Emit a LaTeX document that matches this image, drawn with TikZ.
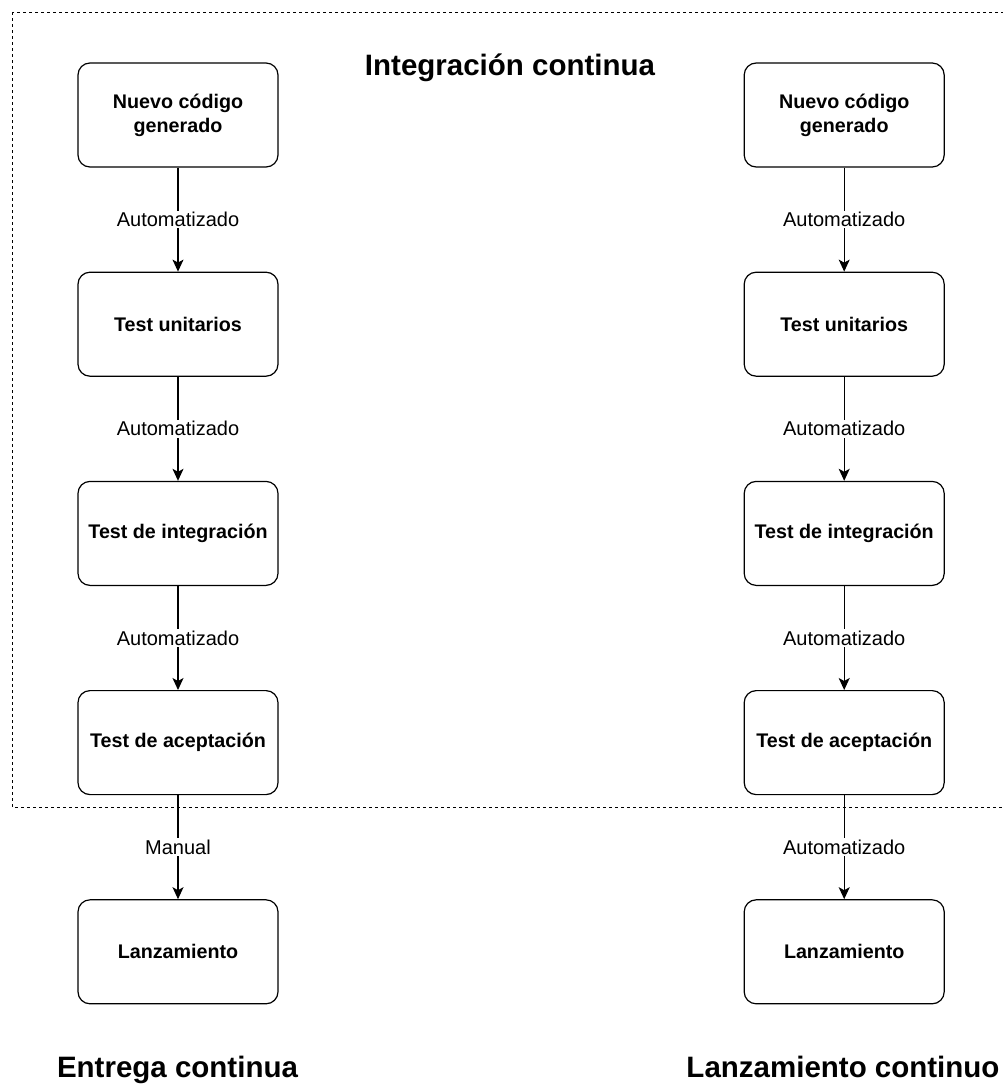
\documentclass[tikz,border=0pt]{standalone}
\usepackage{fontspec}
\setmainfont{Liberation Sans}
\usetikzlibrary{arrows.meta,positioning}

\begin{document}
\begin{tikzpicture}[
        box/.style={draw, line width=1.2pt, rounded corners=12pt, minimum width=200pt,
                    minimum height=104pt, inner sep=0pt, align=center,
                    font=\bfseries\fontsize{19.7}{24}\selectfont},
        flow/.style={line width=1.2pt, -{Stealth[length=12pt, width=11pt, inset=3pt]}},
        lbl/.style={fill=white, inner sep=1.5pt, font=\fontsize{20}{24}\selectfont},
        title/.style={anchor=base, font=\bfseries\fontsize{29.5}{34}\selectfont},
        frame/.style={draw, line width=1pt, dash pattern=on 3pt off 3pt}
    ]
        \useasboundingbox (0pt,0pt) rectangle (1002pt,-1084pt);
        \draw[frame] (12pt,-12pt) rectangle (1030pt,-807pt);

        % entrega continua
        \node[box] (l1) at (178pt,-115pt) {Nuevo código\\generado};
        \node[box, below=104pt of l1] (l2) {Test unitarios};
        \node[box, below=104pt of l2] (l3) {Test de integración};
        \node[box, below=104pt of l3] (l4) {Test de aceptación};
        \node[box, below=104pt of l4] (l5) {Lanzamiento};

        % lanzamiento continuo
        \node[box, right=465pt of l1] (r1) {Nuevo código\\generado};
        \node[box, below=104pt of r1] (r2) {Test unitarios};
        \node[box, below=104pt of r2] (r3) {Test de integración};
        \node[box, below=104pt of r3] (r4) {Test de aceptación};
        \node[box, below=104pt of r4] (r5) {Lanzamiento};

        \draw[flow] (l1) -- node[lbl]{Automatizado} (l2);
        \draw[flow] (l2) -- node[lbl]{Automatizado} (l3);
        \draw[flow] (l3) -- node[lbl]{Automatizado} (l4);
        \draw[flow] (l4) -- node[lbl]{Manual} (l5);

        \draw[flow] (r1) -- node[lbl]{Automatizado} (r2);
        \draw[flow] (r2) -- node[lbl]{Automatizado} (r3);
        \draw[flow] (r3) -- node[lbl]{Automatizado} (r4);
        \draw[flow] (r4) -- node[lbl]{Automatizado} (r5);

        \node[title] (ci) at (510pt,-75pt) {Integración continua};
        \node[title] (cd) at (177.5pt,-1077pt) {Entrega continua};
        \node[title] (cr) at (843pt,-1077pt) {Lanzamiento continuo};
    \end{tikzpicture}
\end{document}
